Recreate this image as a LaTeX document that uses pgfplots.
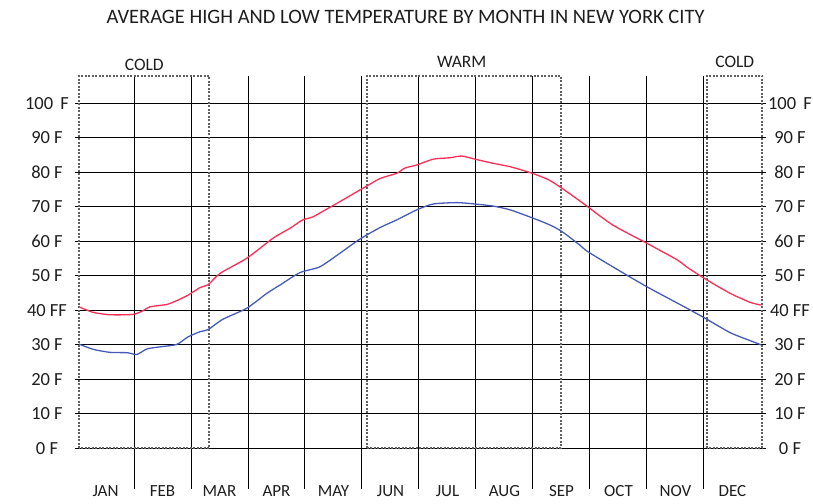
\documentclass[border=0pt]{standalone}
\usepackage{pgfplots}
\pgfplotsset{compat=1.18}
\usepackage{fontspec}
\setmainfont{Carlito}
\definecolor{hi}{RGB}{255,45,85}
\definecolor{lo}{RGB}{70,90,185}
\definecolor{boxc}{RGB}{95,95,95}
\definecolor{txt}{RGB}{30,30,30}

\begin{document}
\begin{tikzpicture}[x=1pt,y=1pt]
\pgfplotsset{
  common/.style={
    at={(75pt,14pt)}, anchor=south west,
    scale only axis, width=691pt, height=413pt,
    xmin=-0.0351, xmax=12.088, ymin=-11.8, ymax=107.9,
    axis line style={draw=none},
    major tick length=0pt, minor tick length=0pt,
    ytick={0,10,...,100},
    yticklabels={0 F,10 F,20 F,30 F,40 FF,50 F,60 F,70 F,80 F,90 F,100\ \,F},
    yticklabel style={font=\fontsize{18.5}{18.5}\selectfont, text=txt},
    xticklabel style={font=\fontsize{17}{17}\selectfont, text=txt},
    clip=false,
  }
}
\begin{axis}[common,
  xtick={0.5,1.5,...,11.5},
  xticklabels={JAN,FEB,MAR,APR,MAY,JUN,JUL,AUG,SEP,OCT,NOV,DEC},
  minor xtick={1,...,11},
  ymajorgrids, xminorgrids, xmajorgrids=false,
  grid style={black, line width=1.4pt},
  major grid style={black, line width=1.4pt},
  minor grid style={black, line width=1.0pt},
  xticklabel style={anchor=center, yshift=-2pt},
  yticklabel style={anchor=center, xshift=-28pt},
]
% dotted season boxes
\draw[boxc, line width=2pt, dash pattern=on 2pt off 1.5pt]
  (axis cs:0.035,0) rectangle (axis cs:2.32,107.9);
\draw[boxc, line width=2pt, dash pattern=on 2pt off 1.5pt]
  (axis cs:5.09,0) rectangle (axis cs:8.49,107.9);
\draw[boxc, line width=2pt, dash pattern=on 2pt off 1.5pt]
  (axis cs:11.05,0) rectangle (axis cs:12.02,107.9);
\node[text=txt, font=\fontsize{17.5}{17.5}\selectfont, yshift=11pt] at (axis cs:1.18,107.9) {COLD};
\node[text=txt, font=\fontsize{17.5}{17.5}\selectfont, yshift=14pt] at (axis cs:6.75,107.9) {WARM};
\node[text=txt, font=\fontsize{17.5}{17.5}\selectfont, yshift=14pt] at (axis cs:11.54,107.9) {COLD};

% average high
\addplot[hi, line width=1.3pt, smooth, tension=0.4] coordinates {
(0.035,41.0) (0.28,39.4) (0.58,38.7) (0.98,38.8) (1.16,39.9) (1.28,41.0)
(1.58,41.7) (1.75,42.8) (1.95,44.4) (2.16,46.6) (2.30,47.4) (2.51,50.7)
(2.98,55.1) (3.44,60.9) (3.74,63.8) (3.96,66.2) (4.14,67.1) (4.56,71.0)
(5.02,75.4) (5.32,78.2) (5.61,79.7) (5.75,81.2) (5.96,82.1) (6.25,83.8)
(6.54,84.2) (6.75,84.7) (6.98,83.8) (7.30,82.6) (7.60,81.6) (7.95,79.9)
(8.25,78.0) (8.47,75.8) (8.82,71.7) (8.96,70.0) (9.40,64.7) (10.00,59.4)
(10.53,54.6) (10.70,52.5) (11.05,48.8) (11.46,44.9) (11.81,42.3) (12.00,41.5)
};
% average low
\addplot[lo, line width=1.3pt, smooth, tension=0.4] coordinates {
(0.035,30.2) (0.28,28.7) (0.58,27.8) (0.88,27.7) (1.05,27.2) (1.23,28.8)
(1.46,29.4) (1.75,30.1) (1.95,32.3) (2.16,33.8) (2.30,34.4) (2.56,37.4)
(2.98,40.6) (3.33,44.9) (3.56,47.3) (3.91,50.9) (4.26,52.6) (4.61,56.5)
(4.96,60.6) (5.32,64.0) (5.61,66.2) (5.96,69.1) (6.25,70.8) (6.67,71.2)
(6.98,70.8) (7.30,70.2) (7.60,69.1) (8.00,66.7) (8.30,64.7) (8.51,62.8)
(8.82,58.9) (8.96,57.0) (9.40,52.6) (10.00,46.8) (10.70,40.6) (11.05,37.4)
(11.46,33.5) (11.81,31.2) (12.00,30.0)
};
\end{axis}
\begin{axis}[common,
  xtick=\empty,
  yticklabel pos=right,
  yticklabel style={anchor=center, xshift=24pt},
]
\end{axis}
\node[text=txt, font=\fontsize{20.5}{20.5}\selectfont] at (405.5,486)
  {AVERAGE HIGH AND LOW TEMPERATURE BY MONTH IN NEW YORK CITY};
\pgfresetboundingbox
\useasboundingbox (0,0) rectangle (813,503);
\end{tikzpicture}
\end{document}
